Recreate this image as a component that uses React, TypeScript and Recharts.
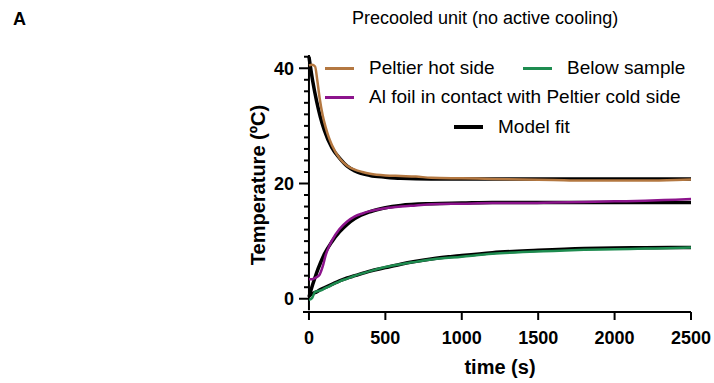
import React from "react";
import { LineChart, Line, XAxis, YAxis, ReferenceLine } from "recharts";

// measured traces (time in s, temperature in ºC)
const TIME_MEAS = [0, 20, 40, 55, 70, 90, 110, 130, 150, 200, 250, 300, 350, 400, 500, 600, 700, 800, 1000, 1200, 1400, 1600, 1800, 2000, 2200, 2400, 2500];
const HOT_SIDE = [40.5, 40.6, 40.3, 37.8, 34.8, 31.8, 29.7, 28.0, 26.7, 24.4, 23.1, 22.4, 22.0, 21.7, 21.4, 21.3, 21.2, 21.0, 20.9, 20.8, 20.7, 20.6, 20.5, 20.5, 20.5, 20.6, 20.7];
const AL_FOIL = [3.4, 3.4, 3.6, 3.8, 4.2, 5.6, 7.6, 9.0, 10.1, 12.1, 13.4, 14.3, 14.8, 15.2, 15.7, 16.0, 16.2, 16.4, 16.5, 16.6, 16.6, 16.7, 16.8, 16.9, 17.0, 17.2, 17.3];
const BELOW_SAMPLE = [-0.2, 0.1, 1.2, 1.3, 1.4, 1.6, 1.9, 2.1, 2.4, 3.0, 3.5, 4.0, 4.4, 4.8, 5.5, 6.0, 6.4, 6.8, 7.3, 7.8, 8.1, 8.3, 8.5, 8.6, 8.7, 8.8, 8.9];

// model fits
const TIME_FIT = [0, 25, 50, 75, 100, 150, 200, 250, 300, 400, 500, 600, 800, 1000, 1200, 1500, 1800, 2000, 2200, 2500];
const FIT_HOT = [42.0, 37.7, 34.3, 31.5, 29.3, 26.2, 24.4, 23.0, 22.2, 21.4, 21.1, 20.9, 20.8, 20.8, 20.8, 20.8, 20.8, 20.8, 20.8, 20.8];
const FIT_FOIL = [0.3, 2.5, 4.5, 6.2, 7.7, 9.9, 11.6, 12.9, 13.9, 15.1, 15.8, 16.2, 16.5, 16.6, 16.7, 16.7, 16.7, 16.7, 16.7, 16.7];
const FIT_BELOW = [0.5, 0.9, 1.2, 1.6, 1.9, 2.5, 3.1, 3.6, 4.0, 4.8, 5.4, 6.0, 6.9, 7.5, 8.0, 8.4, 8.7, 8.8, 8.85, 8.9];

const X_TICKS = [0, 500, 1000, 1500, 2000, 2500];
const Y_TICKS = [0, 2, 4, 6, 8, 10, 12, 14, 16, 18, 20, 22, 24, 26, 28, 30, 32, 34, 36, 38, 40, 42];
const Y_LABELS = [0, 20, 40];

const C_HOT = "#b47841";
const C_FOIL = "#8c148c";
const C_BELOW = "#1e8c50";
const FONT = "Arial, 'Liberation Sans', sans-serif";
const AXIS_X = 309; // y axis sits at t = 0

const measured = TIME_MEAS.map((t, i) => ({
  t,
  hot: HOT_SIDE[i],
  foil: AL_FOIL[i],
  below: BELOW_SAMPLE[i],
}));
const fit = TIME_FIT.map((t, i) => ({
  t,
  hot: FIT_HOT[i],
  foil: FIT_FOIL[i],
  below: FIT_BELOW[i],
}));

function YTick(props: any) {
  const { y, payload } = props;
  const major = Y_LABELS.includes(payload.value);
  return (
    <g>
      <line
        x1={AXIS_X - (major ? 10 : 5)}
        x2={AXIS_X}
        y1={y}
        y2={y}
        stroke="#000"
        strokeWidth={2}
      />
      {major && (
        <text
          x={AXIS_X - 15}
          y={y}
          dy="0.36em"
          textAnchor="end"
          fontFamily={FONT}
          fontWeight="bold"
          fontSize={18}
          fill="#000"
        >
          {payload.value}
        </text>
      )}
    </g>
  );
}

function LegendRow({
  top,
  left,
  color,
  label,
  thick,
}: {
  top: number;
  left: number;
  color: string;
  label: string;
  thick?: boolean;
}) {
  return (
    <div
      style={{
        position: "absolute",
        top: top - 11,
        left,
        height: 22,
        display: "flex",
        alignItems: "center",
        whiteSpace: "nowrap",
      }}
    >
      <div style={{ width: 29, height: thick ? 4 : 3, background: color, marginRight: 15 }} />
      <span style={{ fontSize: 19, lineHeight: "22px" }}>{label}</span>
    </div>
  );
}

export default function App() {
  return (
    <div
      style={{
        position: "absolute",
        left: 0,
        top: 0,
        width: 714,
        height: 383,
        background: "#fff",
        fontFamily: FONT,
        color: "#000",
      }}
    >
      <LineChart
        width={714}
        height={383}
        margin={{ top: 55, right: 23, bottom: 11, left: 243 }}
      >
        <XAxis
          type="number"
          dataKey="t"
          domain={[-39, 2500]}
          ticks={X_TICKS}
          allowDataOverflow
          height={60}
          axisLine={{ stroke: "#000", strokeWidth: 2 }}
          tickLine={{ stroke: "#000", strokeWidth: 2 }}
          tickSize={8}
          tickMargin={11}
          tick={{ fill: "#000", fontSize: 18, fontWeight: "bold", fontFamily: FONT }}
        />
        <YAxis
          type="number"
          domain={[-2.3, 42.3]}
          ticks={Y_TICKS}
          interval={0}
          allowDataOverflow
          width={60}
          axisLine={false}
          tickLine={false}
          tick={<YTick />}
        />
        <ReferenceLine
          segment={[
            { x: 0, y: -2 },
            { x: 0, y: 42.3 },
          ]}
          stroke="#000"
          strokeWidth={2}
        />
        <Line data={fit} dataKey="hot" type="monotone" stroke="#000" strokeWidth={3.5} dot={false} isAnimationActive={false} />
        <Line data={fit} dataKey="foil" type="monotone" stroke="#000" strokeWidth={3.5} dot={false} isAnimationActive={false} />
        <Line data={fit} dataKey="below" type="monotone" stroke="#000" strokeWidth={3.5} dot={false} isAnimationActive={false} />
        <Line data={measured} dataKey="hot" type="monotone" stroke={C_HOT} strokeWidth={2.5} dot={false} isAnimationActive={false} />
        <Line data={measured} dataKey="foil" type="monotone" stroke={C_FOIL} strokeWidth={2.5} dot={false} isAnimationActive={false} />
        <Line data={measured} dataKey="below" type="monotone" stroke={C_BELOW} strokeWidth={2.5} dot={false} isAnimationActive={false} />
      </LineChart>

      <div style={{ position: "absolute", left: 13, top: 8, fontSize: 18, fontWeight: "bold", lineHeight: "22px" }}>
        A
      </div>
      <div style={{ position: "absolute", left: 352, top: 7, fontSize: 18, lineHeight: "22px", whiteSpace: "nowrap" }}>
        Precooled unit (no active cooling)
      </div>

      <LegendRow top={68} left={325} color={C_HOT} label="Peltier hot side" />
      <LegendRow top={68} left={523} color={C_BELOW} label="Below sample" />
      <LegendRow top={97} left={325} color={C_FOIL} label="Al foil in contact with Peltier cold side" />
      <LegendRow top={127} left={454} color="#000" label="Model fit" thick />

      <div
        style={{
          position: "absolute",
          left: 258,
          top: 185,
          transform: "translate(-50%, -50%) rotate(-90deg)",
          fontSize: 20,
          fontWeight: "bold",
          whiteSpace: "nowrap",
          lineHeight: "24px",
        }}
      >
        Temperature (ºC)
      </div>
      <div
        style={{
          position: "absolute",
          left: 500,
          top: 367,
          transform: "translate(-50%, -50%)",
          fontSize: 20,
          fontWeight: "bold",
          whiteSpace: "nowrap",
          lineHeight: "24px",
        }}
      >
        time (s)
      </div>
    </div>
  );
}
